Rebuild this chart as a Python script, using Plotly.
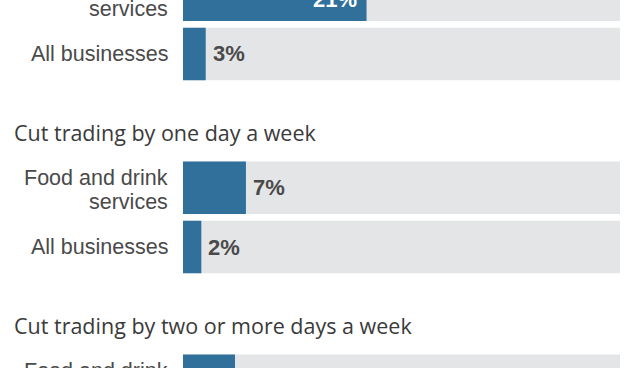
import plotly.graph_objects as go

# ---- data ----
group_titles = ["", "Cut trading by one day a week", "Cut trading by two or more days a week"]
row_labels = [["Food and drink", "services"], ["All businesses"]]
food_drink = [21.0, 7.2, 5.95]
all_businesses = [2.6, 2.1, None]
axis_max = 50

# ---- layout constants ----
W, H = 638, 368
ROW_PITCH = 59.3
GROUP_PITCH = 193.0
FIRST = -5.3
BAR_H = 52.4
BLUE = "#30709b"
GRAY = "#e4e5e7"
TXT = "#4a4a4a"

ys, vals, labels = [], [], []
for g in range(len(group_titles)):
    for r, series in enumerate([food_drink, all_businesses]):
        ys.append(FIRST + g * GROUP_PITCH + r * ROW_PITCH)
        vals.append(series[g])
        labels.append(row_labels[r])

fig = go.Figure()
fig.add_trace(go.Bar(x=[axis_max] * len(ys), y=ys, orientation="h", width=BAR_H,
                     marker=dict(color=GRAY, line=dict(width=0)), hoverinfo="skip"))
fig.add_trace(go.Bar(x=vals, y=ys, orientation="h", width=BAR_H,
                     marker=dict(color=BLUE, line=dict(width=0))))


def dom(y):
    """data y (pixel-like units, reversed axis) -> y-domain fraction"""
    return (H - y) / H


annotations = []
# category labels (one annotation per line for a tighter line height)
for y, lines in zip(ys, labels):
    shifts = [0] if len(lines) == 1 else [10, -14]
    for line, s in zip(lines, shifts):
        annotations.append(dict(x=0, y=dom(y), xref="x domain", yref="y domain", text=line,
                                showarrow=False, xanchor="right", yanchor="middle",
                                xshift=-13, yshift=s,
                                font=dict(size=21.5, color=TXT, family="Liberation Sans")))
# value labels
for y, v in zip(ys, vals):
    if v is None:
        continue
    if v >= 15:
        annotations.append(dict(x=v, y=dom(y), xref="x", yref="y domain",
                                text=f"<b>{v:.0f}%</b>", showarrow=False,
                                xanchor="right", yanchor="middle", xshift=-8, yshift=-5,
                                font=dict(size=22, color="white", family="Liberation Sans")))
    else:
        annotations.append(dict(x=v, y=dom(y), xref="x", yref="y domain",
                                text=f"<b>{v:.0f}%</b>", showarrow=False,
                                xanchor="left", yanchor="middle", xshift=5,
                                font=dict(size=22, color=TXT, family="Liberation Sans")))
# group titles
for g, t in enumerate(group_titles):
    if not t:
        continue
    annotations.append(dict(x=(12 - 183) / 437, y=dom(FIRST + g * GROUP_PITCH - 55),
                            xref="paper", yref="y domain", text=t, showarrow=False,
                            xanchor="left", yanchor="middle",
                            font=dict(size=21.5, color="#3a3a3a", family="Open Sans")))

fig.update_layout(
    width=W, height=H, margin=dict(l=183, r=18, t=0, b=0),
    paper_bgcolor="white", plot_bgcolor="white", barmode="overlay",
    showlegend=False, annotations=annotations,
    xaxis=dict(range=[0, axis_max], visible=False, fixedrange=True),
    yaxis=dict(range=[H, 0], showticklabels=False, showgrid=False,
               zeroline=False, showline=False, ticks="", fixedrange=True),
)
fig.write_html("out.html", config={"displayModeBar": False},
               post_script="document.body.style.margin='0';document.body.style.overflow='hidden';")
